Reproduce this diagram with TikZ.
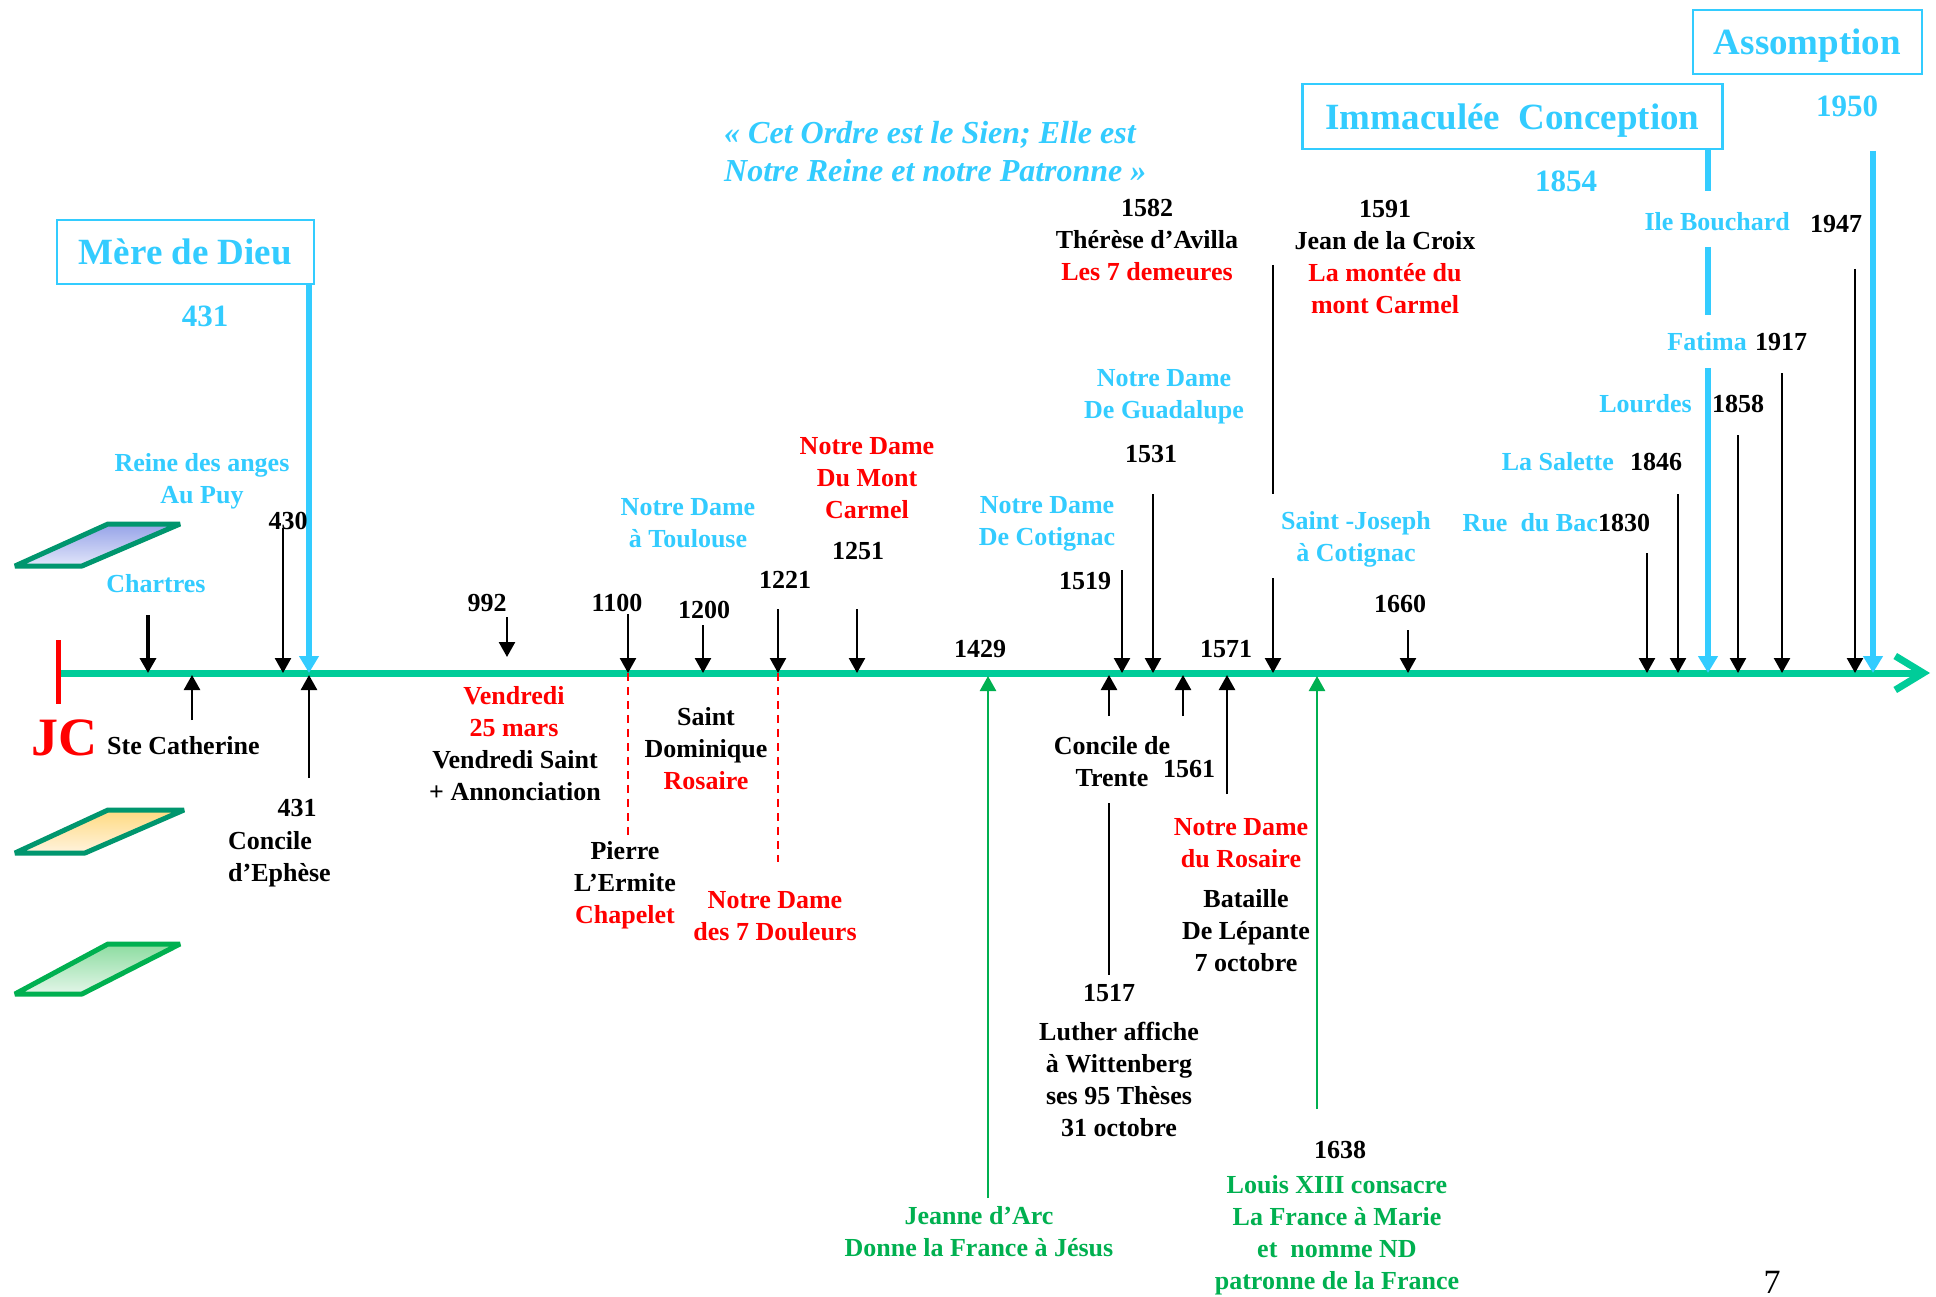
\documentclass[tikz,border=0pt]{standalone}
\usepackage{fontspec}
\setmainfont{Liberation Serif}
\usetikzlibrary{arrows.meta}
\definecolor{cblue}{RGB}{51,204,255}
\definecolor{cred}{RGB}{255,0,0}
\definecolor{cgreen}{RGB}{0,176,80}
\definecolor{caxis}{RGB}{0,204,153}
\definecolor{cdkgreen}{RGB}{0,150,110}
\begin{document}
\begin{tikzpicture}[x=1pt,y=-1pt,
  lbl/.style={font=\bfseries\fontsize{26}{32}\selectfont, inner sep=0pt, align=center},
  bl/.style={lbl,text=cblue},
  rd/.style={lbl,text=cred},
  gr/.style={lbl,text=cgreen},
  bk/.style={lbl,text=black},
  yr/.style={font=\bfseries\fontsize{31}{37}\selectfont, inner sep=0pt, text=cblue},
  ttl/.style={draw=cblue, line width=2.5pt, text=cblue, font=\bfseries\fontsize{37}{44}\selectfont, inner sep=0pt, text depth=0pt},
  darr/.style={draw=black, line width=2.5pt, -{Triangle[length=15pt,width=16pt]}},
  plain/.style={draw=black, line width=2.5pt},
  barr/.style={draw=cblue, line width=6pt, -{Triangle[length=17pt,width=19pt]}},
  bseg/.style={draw=cblue, line width=6pt},
  garr/.style={draw=cgreen, line width=2.5pt, -{Triangle[length=15pt,width=16pt]}},
  rdash/.style={draw=cred, line width=2pt, dash pattern=on 8pt off 6pt},
  para/.style={line width=5pt, line join=bevel},
]
\useasboundingbox (0,0) rectangle (1936,1297);
\fill[white] (0,0) rectangle (1936,1297);

% ---- coordinates ----
\coordinate (axL) at (58,673); \coordinate (axR) at (1930,673);
\coordinate (jcT) at (58,640); \coordinate (jcB) at (58,704);
\coordinate (cA) at (148,615); \coordinate (cB) at (148,673);
\coordinate (a430A) at (283,528); \coordinate (a430B) at (283,673);
\coordinate (mA) at (309,284); \coordinate (mB) at (309,673);
\coordinate (a992A) at (507,617); \coordinate (a992B) at (507,657);
\coordinate (a1100A) at (628,614); \coordinate (a1100B) at (628,673);
\coordinate (a1200A) at (703,625); \coordinate (a1200B) at (703,673);
\coordinate (a1221A) at (778,609); \coordinate (a1221B) at (778,673);
\coordinate (a1251A) at (857,609); \coordinate (a1251B) at (857,673);
\coordinate (a1519A) at (1122,570); \coordinate (a1519B) at (1122,673);
\coordinate (a1531A) at (1153,494); \coordinate (a1531B) at (1153,673);
\coordinate (l1591A) at (1273,265); \coordinate (l1591B) at (1273,494);
\coordinate (a1591A) at (1273,578); \coordinate (a1591B) at (1273,673);
\coordinate (a1660A) at (1408,630); \coordinate (a1660B) at (1408,673);
\coordinate (a1830A) at (1647,553); \coordinate (a1830B) at (1647,673);
\coordinate (a1846A) at (1678,494); \coordinate (a1846B) at (1678,673);
\coordinate (s1A) at (1708,149); \coordinate (s1B) at (1708,191);
\coordinate (s2A) at (1708,247); \coordinate (s2B) at (1708,315);
\coordinate (s3A) at (1708,368); \coordinate (s3B) at (1708,673);
\coordinate (a1858A) at (1738,435); \coordinate (a1858B) at (1738,673);
\coordinate (a1917A) at (1782,373); \coordinate (a1917B) at (1782,673);
\coordinate (a1947A) at (1855,269); \coordinate (a1947B) at (1855,673);
\coordinate (a1950A) at (1873,151); \coordinate (a1950B) at (1873,673);
% up arrows
\coordinate (uSCA) at (192,720); \coordinate (uSCB) at (192,675);
\coordinate (u431A) at (309,778); \coordinate (u431B) at (309,675);
\coordinate (uJA) at (988,1198); \coordinate (uJB) at (988,676);
\coordinate (uTrA) at (1109,716); \coordinate (uTrB) at (1109,675);
\coordinate (u1561A) at (1183,716); \coordinate (u1561B) at (1183,675);
\coordinate (u1571A) at (1227,794); \coordinate (u1571B) at (1227,675);
\coordinate (u1638A) at (1317,1109); \coordinate (u1638B) at (1317,676);
\coordinate (lLuA) at (1109,803); \coordinate (lLuB) at (1109,975);
% dashed
\coordinate (d1A) at (628,673); \coordinate (d1B) at (628,840);
\coordinate (d2A) at (778,673); \coordinate (d2B) at (778,862);

% ---- legend parallelograms ----
\draw[para, draw=cdkgreen, top color={rgb,255:red,150;green,163;blue,232}, bottom color={rgb,255:red,226;green,230;blue,250}]
  (15,566) -- (82,566) -- (180,524) -- (108,524) -- cycle;
\draw[para, draw=cdkgreen, top color={rgb,255:red,255;green,218;blue,128}, bottom color={rgb,255:red,255;green,243;blue,222}]
  (15,853) -- (85,853) -- (184,810) -- (108,810) -- cycle;
\draw[para, draw=cgreen, top color={rgb,255:red,140;green,220;blue,160}, bottom color={rgb,255:red,228;green,246;blue,233}]
  (15,994) -- (82,994) -- (180,944) -- (108,944) -- cycle;

% ---- axis ----
\draw[draw=caxis, line width=7pt, -{Straight Barb[length=28pt,width=34pt]}] (axL) -- (axR);
\draw[draw=cred, line width=5pt] (jcT) -- (jcB);

% ---- dashed red ----
\draw[rdash] (d1A) -- (d1B);
\draw[rdash] (d2A) -- (d2B);

% ---- down arrows ----
\draw[darr, line width=3.5pt] (cA) -- (cB);
\draw[darr] (a430A) -- (a430B);
\draw[darr] (a992A) -- (a992B);
\draw[darr] (a1100A) -- (a1100B);
\draw[darr] (a1200A) -- (a1200B);
\draw[darr] (a1221A) -- (a1221B);
\draw[darr] (a1251A) -- (a1251B);
\draw[darr] (a1519A) -- (a1519B);
\draw[darr] (a1531A) -- (a1531B);
\draw[plain] (l1591A) -- (l1591B);
\draw[darr] (a1591A) -- (a1591B);
\draw[darr] (a1660A) -- (a1660B);
\draw[darr] (a1830A) -- (a1830B);
\draw[darr] (a1846A) -- (a1846B);
\draw[darr] (a1858A) -- (a1858B);
\draw[darr] (a1917A) -- (a1917B);
\draw[darr] (a1947A) -- (a1947B);
% blue
\draw[barr] (mA) -- (mB);
\draw[bseg] (s1A) -- (s1B);
\draw[bseg] (s2A) -- (s2B);
\draw[barr] (s3A) -- (s3B);
\draw[barr] (a1950A) -- (a1950B);

% ---- up arrows ----
\draw[darr] (uSCA) -- (uSCB);
\draw[darr] (u431A) -- (u431B);
\draw[darr] (uTrA) -- (uTrB);
\draw[darr] (u1561A) -- (u1561B);
\draw[darr] (u1571A) -- (u1571B);
\draw[plain] (lLuA) -- (lLuB);
\draw[garr] (uJA) -- (uJB);
\draw[garr] (u1638A) -- (u1638B);

% ---- title boxes ----
\node[ttl, minimum width=257pt, minimum height=64pt] (mere) at (185.5,252) {Mère de Dieu};
\node[yr] (y431) at (205,316) {431};
\node[ttl, minimum width=420pt, minimum height=65pt] (immac) at (1512.5,116.5) {Immaculée~~Conception};
\node[yr] (y1854) at (1566,181) {1854};
\node[ttl, minimum width=229pt, minimum height=64pt] (assomp) at (1807.5,42) {Assomption};
\node[yr] (y1950) at (1847,106) {1950};

\node[font=\bfseries\itshape\fontsize{32}{38}\selectfont, text=cblue, align=left, anchor=west, inner sep=0pt] (quote) at (724,152)
  {« Cet Ordre est le Sien; Elle est\\Notre Reine et notre Patronne »};

% ---- left ----
\node[bl] (reine) at (202,481) {Reine des anges\\Au Puy};
\node[bk] (t430) at (288,521) {430};
\node[bl] (chartres) at (156,584) {Chartres};
\node[font=\bfseries\fontsize{54}{60}\selectfont, text=cred, inner sep=0pt] (jc) at (64,738) {JC};
\node[bk, anchor=west] (stecat) at (107,746) {Ste Catherine};
\node[bk] (t431b) at (297,808) {431};
\node[bk, align=left, anchor=west] (ephese) at (228,859) {Concile\\d’Ephèse};

% ---- middle ----
\node[bk] (t992) at (487,603) {992};
\node[bk] (t1100) at (617,603) {1100};
\node[bk] (t1200) at (704,610) {1200};
\node[bk] (t1221) at (785,580) {1221};
\node[bk] (t1251) at (858,551) {1251};
\node[bk] (t1429) at (980,649) {1429};
\node[rd] (vend) at (514,712) {Vendredi\\25 mars};
\node[bk] (vsaint) at (515,776) {Vendredi Saint\\+ Annonciation};
\node[bk] (domin) at (706,749) {Saint\\Dominique\\{\color{cred}Rosaire}};
\node[bk] (pierre) at (625,885) {Pierre\\L’Ermite\\{\color{cred}Chapelet}};
\node[rd] (douleurs) at (775,916) {Notre Dame\\des 7 Douleurs};
\node[bl] (toulouse) at (688,523) {Notre Dame\\à Toulouse};
\node[rd] (carmel) at (867,478) {Notre Dame\\Du Mont\\Carmel};
\node[gr] (jeanne) at (979,1232) {Jeanne d’Arc\\Donne la France à Jésus};
\node[bl] (cotignac) at (1047,524) {Notre Dame\\De Cotignac};
\node[bk] (t1519) at (1085,581) {1519};
\node[bl] (guadalupe) at (1164,397) {Notre Dame\\De Guadalupe};
\node[bk] (t1531) at (1151,454) {1531};
\node[bk] (therese) at (1147,240) {1582\\Thérèse d’Avilla\\{\color{cred}Les 7 demeures}};
\node[bk] (jean) at (1385,257) {1591\\Jean de la Croix\\{\color{cred}La montée du}\\{\color{cred}mont Carmel}};
\node[bk] (t1571) at (1226,649) {1571};
\node[bl] (stjoseph) at (1356,539) {Saint -Joseph\\à Cotignac};
\node[bk] (t1660) at (1400,604) {1660};
\node[bk] (trente) at (1112,762) {Concile de\\Trente};
\node[bk] (t1561) at (1189,769) {1561};
\node[bk] (t1517) at (1109,993) {1517};
\node[bk] (luther) at (1119,1079) {Luther affiche\\à Wittenberg\\ses 95 Thèses\\31 octobre};
\node[rd] (ndrosaire) at (1241,843) {Notre Dame\\du Rosaire};
\node[bk] (lepante) at (1246,931) {Bataille\\De Lépante\\7 octobre};
\node[bk] (t1638) at (1340,1150) {1638};
\node[gr] (louis) at (1337,1235) {Louis XIII consacre\\La France à Marie\\et~~nomme ND\\patronne de la France};

% ---- right ----
\node[bl, anchor=east] (bac) at (1598,523) {Rue~~du Bac};
\node[bk, anchor=west] (t1830) at (1598,523) {1830};
\node[bl, anchor=east] (salette) at (1614,462) {La Salette};
\node[bk, anchor=west] (t1846) at (1630,462) {1846};
\node[bl, anchor=east] (lourdes) at (1692,404) {Lourdes};
\node[bk, anchor=west] (t1858) at (1712,404) {1858};
\node[bl, anchor=east] (fatima) at (1747,342) {Fatima};
\node[bk, anchor=west] (t1917) at (1755,342) {1917};
\node[bl, anchor=east] (ileb) at (1790,222) {Ile Bouchard};
\node[bk, anchor=west] (t1947) at (1810,224) {1947};

\node[font=\fontsize{34}{40}\selectfont, inner sep=0pt] (pg) at (1772,1282) {7};
\end{tikzpicture}
\end{document}
